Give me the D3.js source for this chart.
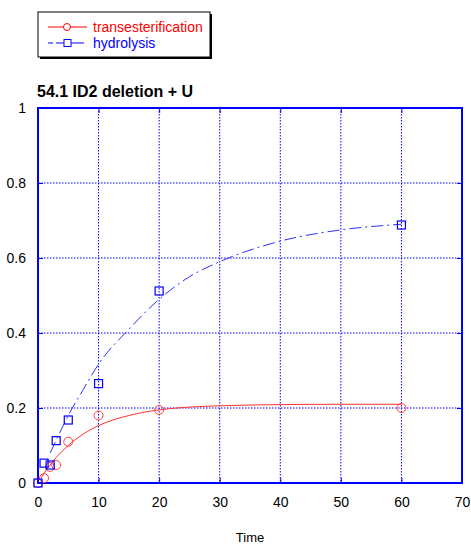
<!DOCTYPE html>
<html>
<head>
<meta charset="utf-8">
<script src="https://cdn.jsdelivr.net/npm/d3@7"></script>
<style>
  body { margin: 0; background: #fff; }
  text { font-family: "Liberation Sans", Arial, sans-serif; }
</style>
</head>
<body>
<div id="chart"></div>
<script>
// measured points
let transTime = [0, 1, 2, 3, 5, 10, 20, 60];
let transValue = [0, 0.013, 0.043, 0.048, 0.11, 0.18, 0.195, 0.2];
let hydroTime = [0, 1, 2, 3, 5, 10, 20, 60];
let hydroValue = [0, 0.053, 0.048, 0.113, 0.168, 0.265, 0.512, 0.688];

// fitted curves
let transFitTime = [0.5, 1, 2, 3, 5, 7.5, 10, 15, 20, 30, 40, 50, 60];
let transFitValue = [0.013, 0.026, 0.048, 0.068, 0.10, 0.131, 0.153, 0.180, 0.195, 0.206, 0.209, 0.21, 0.21];
let hydroFitTime = [2, 3, 5, 7.5, 10, 15, 20, 25, 30, 40, 50, 60];
let hydroFitValue = [0.08, 0.114, 0.18, 0.25, 0.317, 0.41, 0.49, 0.55, 0.59, 0.645, 0.675, 0.69];

let xTicks = [0, 10, 20, 30, 40, 50, 60, 70];
let yTicks = [0, 0.2, 0.4, 0.6, 0.8, 1];
let seriesNames = ["transesterification", "hydrolysis"];

let margin = {top: 108, right: 9, bottom: 61, left: 38};
let width = 471 - margin.left - margin.right;
let height = 544 - margin.top - margin.bottom;

let svg = d3.select("#chart")
    .append("svg")
        .attr("width", 471)
        .attr("height", 544);

let g = svg.append("g")
    .attr("transform", "translate(" + margin.left + "," + margin.top + ")");

let xScale = d3.scaleLinear().domain([0, 70]).range([0, width]);
let yScale = d3.scaleLinear().domain([0, 1]).range([height, 0]);

// grid
g.selectAll(".vgrid")
    .data(xTicks.slice(1, -1))
    .enter()
    .append("line")
        .attr("x1", d => xScale(d)).attr("x2", d => xScale(d))
        .attr("y1", 0).attr("y2", height)
        .attr("stroke", "#0000ff")
        .attr("stroke-width", 1)
        .attr("stroke-dasharray", "1.5,1.5");

g.selectAll(".hgrid")
    .data(yTicks.slice(1, -1))
    .enter()
    .append("line")
        .attr("x1", 0).attr("x2", width)
        .attr("y1", d => yScale(d)).attr("y2", d => yScale(d))
        .attr("stroke", "#0000ff")
        .attr("stroke-width", 1)
        .attr("stroke-dasharray", "1.5,1.5");

// axes, ticks pointing inwards
let xAxis = g.append("g")
    .attr("transform", "translate(0," + height + ")")
    .call(d3.axisBottom(xScale).tickValues(xTicks).tickSizeInner(-5).tickSizeOuter(0).tickPadding(14));
let yAxis = g.append("g")
    .call(d3.axisLeft(yScale).tickValues(yTicks).tickSizeInner(-5).tickSizeOuter(0).tickPadding(12)
        .tickFormat(d => d === 0 || d === 1 ? d3.format("d")(d) : d3.format(".1f")(d)));
let yAxisRight = g.append("g")
    .attr("transform", "translate(" + width + ",0)")
    .call(d3.axisRight(yScale).tickValues(yTicks).tickSizeInner(-5).tickSizeOuter(0).tickFormat(""));
let xAxisTop = g.append("g")
    .call(d3.axisTop(xScale).tickValues(xTicks).tickSizeInner(-5).tickSizeOuter(0).tickFormat(""));

[xAxis, yAxis, yAxisRight, xAxisTop].forEach(a => {
    a.selectAll("line").attr("stroke", "#0000ff");
    a.select(".domain").attr("stroke", "none");
    a.selectAll("text")
        .attr("fill", "#000")
        .style("font-size", "14px")
        .style("font-family", "Liberation Sans, Arial, sans-serif");
});

g.append("rect")
    .attr("x", 0).attr("y", 0)
    .attr("width", width).attr("height", height)
    .attr("fill", "none")
    .attr("stroke", "#0000ff")
    .attr("stroke-width", 2);

// fitted curves
let line = d3.line()
    .x(d => xScale(d[0]))
    .y(d => yScale(d[1]))
    .curve(d3.curveMonotoneX);

g.append("path")
    .datum(transFitTime.map((t, i) => [t, transFitValue[i]]))
    .attr("d", line)
    .attr("fill", "none")
    .attr("stroke", "#ff3030")
    .attr("stroke-width", 1);

g.append("path")
    .datum(hydroFitTime.map((t, i) => [t, hydroFitValue[i]]))
    .attr("d", line)
    .attr("fill", "none")
    .attr("stroke", "#3030ff")
    .attr("stroke-width", 1)
    .attr("stroke-dasharray", "12,4,2,4");

// markers
g.selectAll(".trans-circle")
    .data(transTime.map((t, i) => [t, transValue[i]]))
    .enter()
    .append("circle")
        .attr("cx", d => xScale(d[0]))
        .attr("cy", d => yScale(d[1]))
        .attr("r", 4.5)
        .attr("fill", "none")
        .attr("stroke", "#ff4040")
        .attr("stroke-width", 1);

g.selectAll(".hydro-square")
    .data(hydroTime.map((t, i) => [t, hydroValue[i]]))
    .enter()
    .append("rect")
        .attr("x", d => xScale(d[0]) - 4)
        .attr("y", d => yScale(d[1]) - 4)
        .attr("width", 8)
        .attr("height", 8)
        .attr("fill", "none")
        .attr("stroke", "#0000ff")
        .attr("stroke-width", 1.2);

// title and axis label
svg.append("text")
    .attr("x", 37).attr("y", 97)
    .style("font-size", "16px")
    .style("font-weight", "bold")
    .text("54.1 ID2 deletion + U");

svg.append("text")
    .attr("x", margin.left + xScale(35)).attr("y", 542)
    .attr("text-anchor", "middle")
    .style("font-size", "13px")
    .text("Time");

// legend
let legend = svg.append("g");
legend.append("rect")
    .attr("x", 40).attr("y", 14).attr("width", 172).attr("height", 45)
    .attr("fill", "#000");
legend.append("rect")
    .attr("x", 38).attr("y", 12).attr("width", 172).attr("height", 45)
    .attr("fill", "#fff")
    .attr("stroke", "#000")
    .attr("stroke-width", 1);

let legendColors = ["#ff0000", "#0000ff"];
seriesNames.forEach((name, i) => {
    let y = 27 + i * 16;
    legend.append("line")
        .attr("x1", 48).attr("x2", 87).attr("y1", y).attr("y2", y)
        .attr("stroke", legendColors[i])
        .attr("stroke-dasharray", i === 1 ? "5,3,28" : null);
    if (i === 0) {
        legend.append("circle")
            .attr("cx", 67).attr("cy", y).attr("r", 3.5)
            .attr("fill", "#fff").attr("stroke", legendColors[i]);
    } else {
        legend.append("rect")
            .attr("x", 64).attr("y", y - 3.5).attr("width", 7).attr("height", 7)
            .attr("fill", "#fff").attr("stroke", legendColors[i]);
    }
    legend.append("text")
        .attr("x", 93).attr("y", y + 5)
        .attr("fill", legendColors[i])
        .style("font-size", "14px")
        .text(name);
});
</script>
</body>
</html>
